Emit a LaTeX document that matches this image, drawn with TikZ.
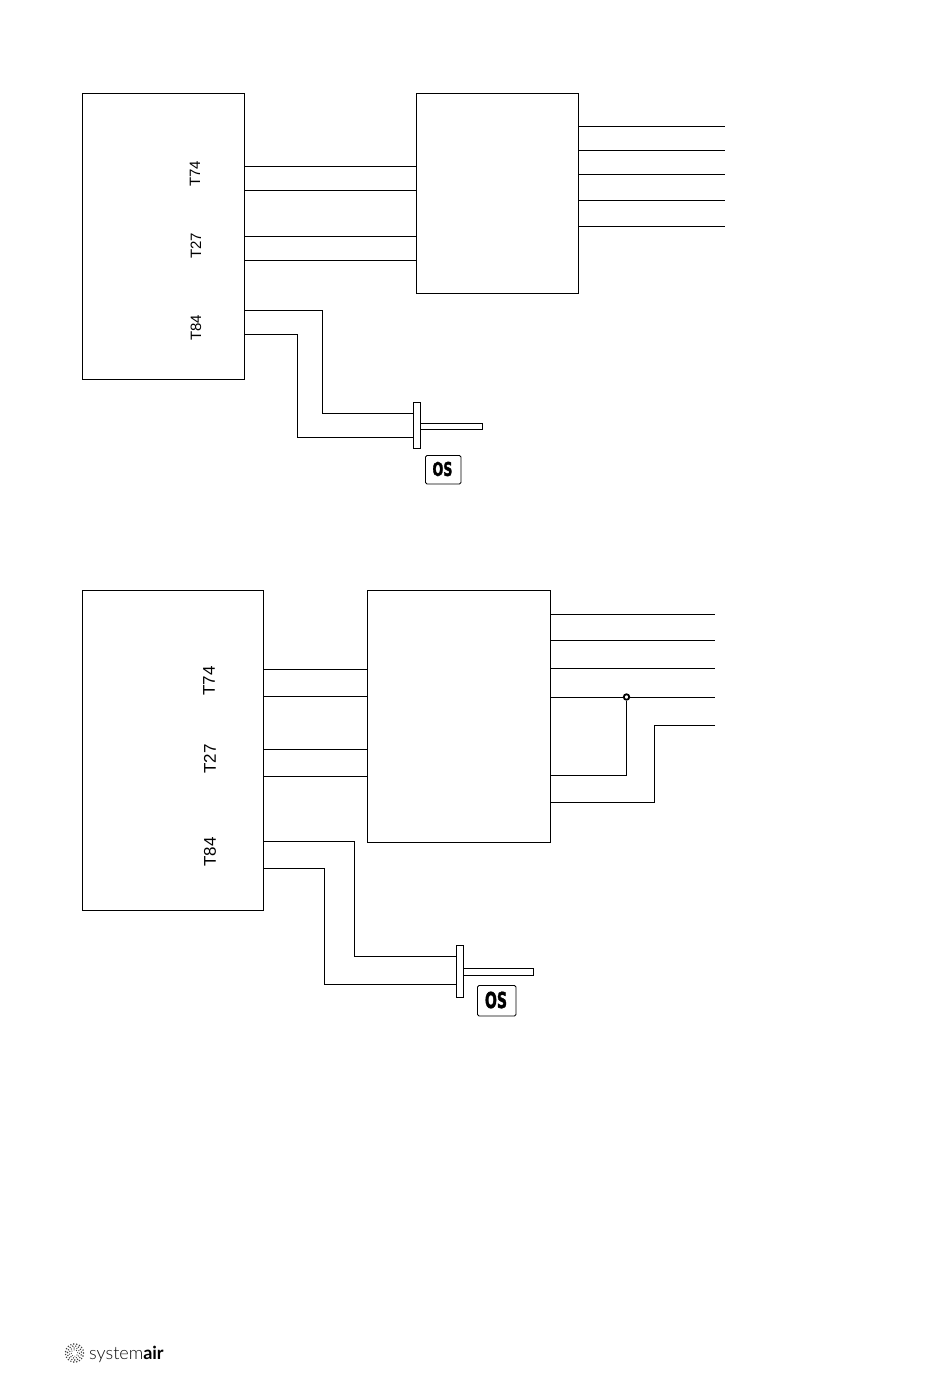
\documentclass[tikz,border=0pt]{standalone}
\usepackage{fontspec}
\setmainfont{Liberation Sans}
\newfontfamily\osfont[FakeBold=2.2]{DejaVu Sans Bold}
\newfontfamily\logofont{Lato Light}
\newfontfamily\logobold{Lato}
\tikzset{
  wire/.style={draw=black,line width=0.9pt,line join=miter},
  unitbox/.style={draw=black,line width=0.9pt,fill=white,inner sep=0pt,outer sep=0pt,rectangle},
  term/.style={rotate=90,inner sep=0pt,font=\fontsize{#1}{#1}\selectfont},
  osbadge/.style={draw=black,line width=0.9pt,rounded corners=1.5pt,fill=white,inner sep=0pt,outer sep=0pt,rectangle},
  ostext/.style 2 args={inner sep=0pt,xscale=#2,font=\osfont\fontsize{#1}{#1}\selectfont}
}
\newcommand{\bx}[6]{\node[#6,minimum width=#4pt-#2pt,minimum height=#5pt-#3pt] (#1) at ({(#2+#4)/2},{(#3+#5)/2}) {};}
\begin{document}
\begin{tikzpicture}[x=1pt,y=-1pt]
\path[fill=white,use as bounding box] (0,0) rectangle (950,1378);

% ---------- upper diagram ----------
\bx{A}{82.5}{93.5}{244.5}{379.5}{unitbox}
\bx{B}{416.5}{93.5}{578.5}{293.5}{unitbox}
\node[term=15] (t74a) at (195,174) {T74};
\node[term=15] (t27a) at (196,246) {T27};
\node[term=15] (t84a) at (196,328) {T84};
\foreach \n/\y in {a/166.5,b/190.5,c/236.5,d/260.5}{
  \coordinate (u\n) at (0,\y);
  \draw[wire] (A.east |- u\n) -- (B.west |- u\n);
}
\foreach \n/\y in {a/126.5,b/150.5,c/174.5,d/200.5,e/226.5}{
  \coordinate (r\n) at (725,\y);
  \draw[wire] (B.east |- r\n) -- (r\n);
}
\bx{Fa}{413.5}{402.5}{420.5}{448.5}{unitbox}
\bx{Sa}{420.5}{423.5}{482.5}{429.5}{unitbox}
\coordinate (pa) at (322.5,310.5);
\coordinate (qa) at (322.5,413.5);
\coordinate (pb) at (297,334.5);
\coordinate (qb) at (297,437.5);
\draw[wire] (A.east |- pa) -- (pa) -- (qa) -- (Fa.west |- qa);
\draw[wire] (A.east |- pb) -- (pb) -- (qb) -- (Fa.west |- qb);
\bx{Oa}{425.5}{455.5}{461}{484}{osbadge}
\node[ostext={19}{.67}] (osa) at (442.5,469) {OS};

% ---------- lower diagram ----------
\bx{C}{82.5}{590.5}{263.5}{910.5}{unitbox}
\bx{D}{367.5}{590.5}{550.5}{842.5}{unitbox}
\node[term=17] (t74b) at (209,681) {T74};
\node[term=17] (t27b) at (210,759) {T27};
\node[term=17] (t84b) at (210,852) {T84};
\foreach \n/\y in {a/669.5,b/696.5,c/749.5,d/776.5}{
  \coordinate (v\n) at (0,\y);
  \draw[wire] (C.east |- v\n) -- (D.west |- v\n);
}
\foreach \n/\y in {a/614.5,b/640.5,c/668.5,d/697.5}{
  \coordinate (s\n) at (715,\y);
  \draw[wire] (D.east |- s\n) -- (s\n);
}
\coordinate (se) at (715,725.5);
\coordinate (m1) at (654.5,725.5);
\coordinate (m2) at (654.5,802.5);
\draw[wire] (se) -- (m1) -- (m2) -- (D.east |- m2);
\node[circle,draw=black,line width=1.8pt,fill=white,minimum size=5.5pt,inner sep=0pt] (jn) at (626.5,697) {};
\coordinate (m3) at (626.5,775.5);
\draw[wire] (jn.south) -- (m3) -- (D.east |- m3);
\bx{Fb}{456.5}{945.5}{463.5}{997}{unitbox}
\bx{Sb}{463.5}{968.5}{533.5}{975.5}{unitbox}
\coordinate (pc) at (354.5,841.5);
\coordinate (qc) at (354.5,956.5);
\coordinate (pd) at (324.5,868.5);
\coordinate (qd) at (324.5,984.5);
\draw[wire] (C.east |- pc) -- (pc) -- (qc) -- (Fb.west |- qc);
\draw[wire] (C.east |- pd) -- (pd) -- (qd) -- (Fb.west |- qd);
\bx{Ob}{477.5}{985.5}{516}{1016}{osbadge}
\node[ostext={22}{.64}] (osb) at (496,1000) {OS};

% ---------- logo ----------
\foreach \r/\n/\s in {3.2/8/.55,5/11/.7,7/15/.8,9/19/.85}{
  \foreach \i in {1,...,\n}{
    \fill[black!75] ({74.5+\r*cos(\i*360/\n+\r*40)},{1353+\r*sin(\i*360/\n+\r*40)}) circle (\s);
  }
}
\node[anchor=base west,inner sep=0pt,font=\logofont\fontsize{18}{18}\selectfont,text=black!95] (logo) at (89,1359) {system{\logobold\bfseries\textcolor{black}{air}}};
\end{tikzpicture}
\end{document}
